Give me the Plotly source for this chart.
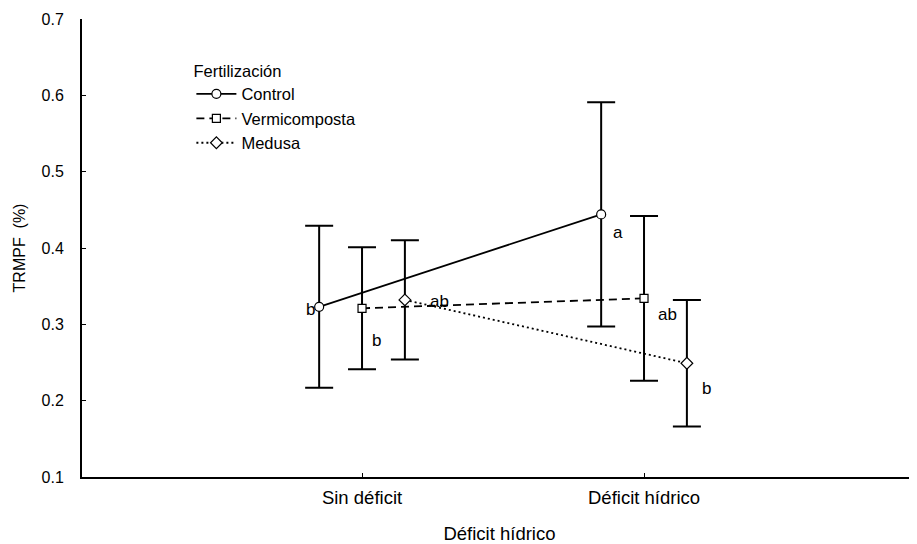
import plotly.graph_objects as go

# ---- data ----
categories = ["Sin déficit", "Déficit hídrico"]
series_names = ["Control", "Vermicomposta", "Medusa"]
control_mean = [0.323, 0.444]
control_err = [0.106, 0.147]
vermi_mean = [0.321, 0.334]
vermi_err = [0.080, 0.108]
medusa_mean = [0.332, 0.249]
medusa_err = [0.078, 0.083]
control_labels = ["b", "a"]
vermi_labels = ["b", "ab"]
medusa_labels = ["ab", "b"]
y_ticks = [0.1, 0.2, 0.3, 0.4, 0.5, 0.6, 0.7]

FONT = "Liberation Sans, Arial, sans-serif"
base_pos = [1, 2]
offsets = [-0.152, 0.0, 0.152]
dashes = ["solid", "8px,5px", "2px,3px"]
symbols = ["circle", "square", "diamond"]
sizes = [9, 8, 9]
# label pixel shifts (dx, dy) per series per category
label_shift = [
    [(-9, -3), (17, -18)],
    [(14, -32), (23, -16)],
    [(35, -2), (20, -25)],
]

means = [control_mean, vermi_mean, medusa_mean]
errs = [control_err, vermi_err, medusa_err]
labels = [control_labels, vermi_labels, medusa_labels]

fig = go.Figure()
annotations = []
for i, name in enumerate(series_names):
    xs = [p + offsets[i] for p in base_pos]
    fig.add_trace(go.Scatter(
        x=xs, y=means[i], name=name, mode="lines+markers",
        line=dict(color="black", width=1.8, dash=dashes[i]),
        marker=dict(symbol=symbols[i], size=sizes[i],
                    color="white", line=dict(color="black", width=1.2)),
        error_y=dict(type="data", array=errs[i], visible=True,
                     color="black", thickness=2, width=14),
    ))
    for j, lab in enumerate(labels[i]):
        dx, dy = label_shift[i][j]
        annotations.append(dict(
            x=xs[j], y=means[i][j], text=lab, showarrow=False,
            xshift=dx, yshift=dy,
            font=dict(family=FONT, size=17, color="black"),
        ))

# page body has an 8px margin, so the figure is 8px smaller and margins shifted
fig.update_layout(
    width=909, height=536,
    margin=dict(l=74, r=0, t=11, b=67, autoexpand=False),
    paper_bgcolor="white", plot_bgcolor="white",
    font=dict(family=FONT, color="black"),
    showlegend=True,
    legend=dict(
        title=dict(text="Fertilización", font=dict(family=FONT, size=16.5)),
        font=dict(family=FONT, size=16.5),
        x=0.131, y=0.921, xanchor="left", yanchor="top",
        bgcolor="rgba(0,0,0,0)", itemwidth=40, tracegroupgap=0,
    ),
    annotations=annotations,
)
fig.update_xaxes(
    range=[0.007, 2.968], tickvals=base_pos, ticktext=categories,
    showline=True, linecolor="black", linewidth=2, showgrid=False,
    zeroline=False, ticks="inside", ticklen=4, tickcolor="black",
    tickfont=dict(family=FONT, size=18.5), ticklabelstandoff=3,
    title=dict(text="Déficit hídrico", font=dict(family=FONT, size=18.5), standoff=23),
    automargin=False,
)
fig.update_yaxes(
    range=[0.1, 0.7], tickvals=y_ticks, ticktext=[f"{v:.1f}" for v in y_ticks],
    showline=True, linecolor="black", linewidth=2, showgrid=False,
    zeroline=False, ticks="inside", ticklen=4, tickcolor="black",
    tickfont=dict(family=FONT, size=16), ticklabelstandoff=13,
    title=dict(text="TRMPF&nbsp; (%)", font=dict(family=FONT, size=16), standoff=12),
    automargin=False,
)
fig.write_html("out.html")
